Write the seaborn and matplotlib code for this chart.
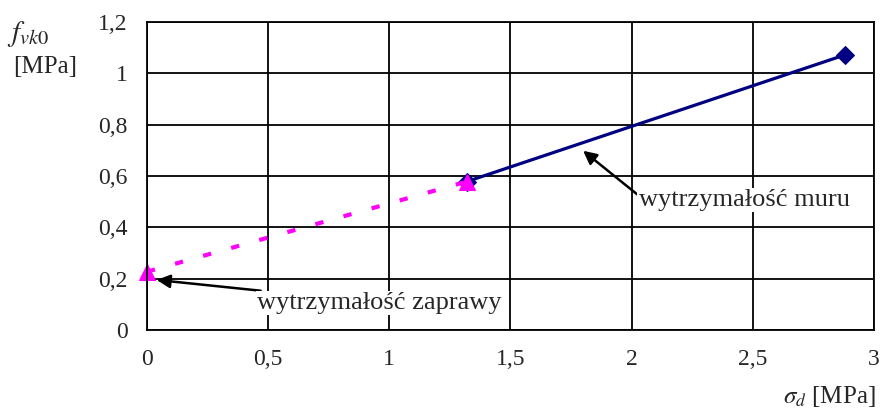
import numpy as np
import seaborn as sns
import matplotlib.pyplot as plt

# data
mortar_x = [0.0, 1.32]
mortar_y = [0.227, 0.578]
wall_x = [1.32, 2.88]
wall_y = [0.578, 1.071]

x_ticks = [0, 0.5, 1, 1.5, 2, 2.5, 3]
x_tick_labels = ["0", "0,5", "1", "1,5", "2", "2,5", "3"]
y_ticks = [0, 0.2, 0.4, 0.6, 0.8, 1.0, 1.2]
y_tick_labels = ["0", "0,2", "0,4", "0,6", "0,8", "1", "1,2"]

sns.set_style("white")
plt.rcParams['font.family'] = ['Liberation Serif', 'DejaVu Serif']
plt.rcParams['mathtext.fontset'] = 'stix'

fig = plt.figure(figsize=(8.8, 4.12), dpi=100)
ax = fig.add_axes([0.167, 0.199, 0.826, 0.748])

# wall strength line (navy, diamonds)
sns.lineplot(x=wall_x, y=wall_y, color="#000080", linewidth=2.3,
             marker="D", markersize=9, markeredgecolor="#000080", ax=ax)
# mortar strength line (magenta, dashed, triangles)
sns.lineplot(x=mortar_x, y=mortar_y, color="#ff00ff", linewidth=3.0,
             linestyle=(0, (2.0, 5.0)), marker="^", markersize=11,
             markeredgecolor="#ff00ff", clip_on=False, ax=ax)

ax.set_xlim(0, 3)
ax.set_ylim(0, 1.2)
ax.set_xticks(x_ticks)
ax.set_xticklabels(x_tick_labels)
ax.set_yticks(y_ticks)
ax.set_yticklabels(y_tick_labels)
ax.grid(True, color="black", linewidth=1.3)
ax.set_axisbelow(True)
for s in ax.spines.values():
    s.set_color("black")
    s.set_linewidth(1.3)
ax.tick_params(axis="both", direction="out", length=8, width=1.3,
               color="black", labelsize=17, pad=6)

fig.text(0.008, 0.918, r"$f_{vk0}$", fontsize=21, ha="left", va="center")
fig.text(0.015, 0.838, "[MPa]", fontsize=18, ha="left", va="center")
fig.text(0.995, 0.008, r"$\sigma_d$ [MPa]", fontsize=18, ha="right", va="bottom")

ax.annotate("wytrzymałość zaprawy", xy=(0.04, 0.195), xytext=(0.455, 0.105),
            fontsize=19, va="center", ha="left",
            bbox=dict(facecolor="white", edgecolor="none", pad=1),
            arrowprops=dict(arrowstyle="-|>", color="black", lw=1.8,
                            mutation_scale=20, shrinkA=0, shrinkB=0))
ax.annotate("wytrzymałość muru", xy=(1.80, 0.698), xytext=(2.03, 0.506),
            fontsize=19, va="center", ha="left",
            bbox=dict(facecolor="white", edgecolor="none", pad=1),
            arrowprops=dict(arrowstyle="-|>", color="black", lw=1.8,
                            mutation_scale=20, shrinkA=0, shrinkB=0,
                            relpos=(0, 0.7)))

fig.savefig("out.png", dpi=100)
